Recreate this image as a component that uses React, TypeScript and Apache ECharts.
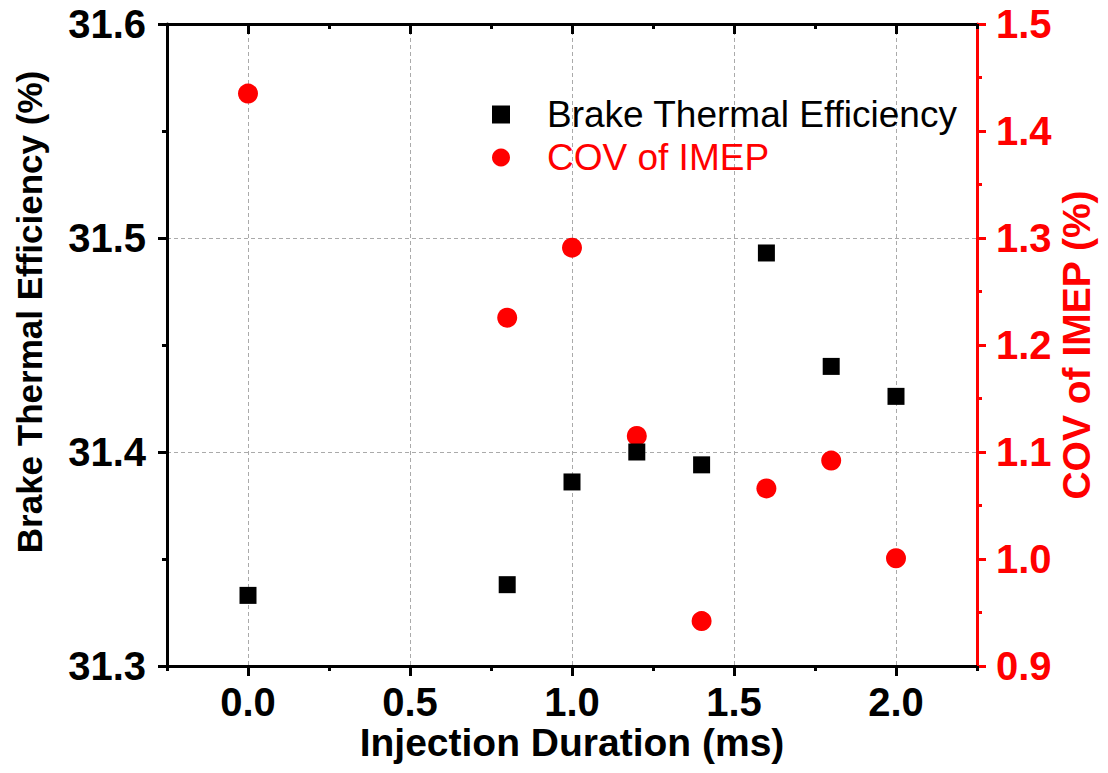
import React, { useEffect, useRef } from "react";
import * as echarts from "echarts";

const injectionDuration = [0, 0.8, 1.0, 1.2, 1.4, 1.6, 1.8, 2.0];
const bteValues = [31.333, 31.338, 31.386, 31.4, 31.394, 31.493, 31.44, 31.426];
const covValues = [1.435, 1.2255, 1.291, 1.115, 0.942, 1.066, 1.092, 1.0007];
const xMajorTicks = [0, 0.5, 1.0, 1.5, 2.0];
const xMinorTicks = [-0.25, 0.25, 0.75, 1.25, 1.75, 2.25];
const bteName = "Brake Thermal Efficiency";
const covName = "COV of IMEP";

const FONT = "'Liberation Sans', Arial, sans-serif";
const RED = "#ff0000";

export default function App() {
  const ref = useRef<HTMLDivElement>(null);
  useEffect(() => {
    document.body.style.margin = "0";
    if (!ref.current) return;
    const chart = echarts.init(ref.current, undefined, { renderer: "svg" });
    const xBase = {
      type: "value",
      min: -0.25,
      max: 2.25,
      splitLine: { show: false },
      axisLabel: { show: false },
      nameMoveOverlap: false,
    };
    chart.setOption({
      animation: false,
      backgroundColor: "#fff",
      textStyle: { fontFamily: FONT },
      grid: { left: 167, right: 131, top: 24, bottom: 107, outerBoundsMode: "none" },
      legend: {
        orient: "vertical",
        left: 487,
        top: 91,
        itemWidth: 18,
        itemHeight: 18,
        itemGap: 6,
        selectedMode: false,
        textStyle: { fontSize: 37, fontFamily: FONT, padding: [0, 0, 0, 32] },
        data: [
          { name: bteName, icon: "rect", textStyle: { color: "#000" } },
          { name: covName, icon: "circle", textStyle: { color: RED } },
        ],
      },
      xAxis: [
        {
          ...xBase,
          position: "bottom",
          name: "Injection Duration (ms)",
          nameLocation: "middle",
          nameGap: 57,
          nameTextStyle: { fontSize: 39, fontWeight: "bold", color: "#000", fontFamily: FONT },
          axisLine: { show: true, onZero: false, lineStyle: { color: "#000", width: 3 } },
          axisTick: { show: true, length: 10, customValues: xMajorTicks, lineStyle: { color: "#000", width: 3 } },
          axisLabel: {
            show: true,
            customValues: xMajorTicks,
            margin: 16,
            fontSize: 40,
            fontWeight: "bold",
            color: "#000",
            fontFamily: FONT,
            formatter: (v: number) => v.toFixed(1),
          },
          splitLine: { show: true, lineStyle: { color: "#aaaaaa", width: 1, type: [4, 3] } },
        },
        {
          ...xBase,
          position: "bottom",
          axisLine: { show: false, onZero: false },
          axisTick: { show: true, length: 5, customValues: xMinorTicks, lineStyle: { color: "#000", width: 3 } },
        },
        {
          ...xBase,
          position: "top",
          axisLine: { show: true, onZero: false, lineStyle: { color: "#000", width: 3 } },
          axisTick: { show: true, inside: true, length: 10, customValues: xMajorTicks, lineStyle: { color: "#000", width: 3 } },
        },
        {
          ...xBase,
          position: "top",
          axisLine: { show: false, onZero: false },
          axisTick: { show: true, inside: true, length: 5, customValues: xMinorTicks, lineStyle: { color: "#000", width: 3 } },
        },
      ],
      yAxis: [
        {
          type: "value",
          position: "left",
          min: 31.3,
          max: 31.6,
          interval: 0.1,
          nameMoveOverlap: false,
          name: "Brake Thermal Efficiency (%)",
          nameLocation: "middle",
          nameGap: 120,
          nameTextStyle: { fontSize: 35, fontWeight: "bold", color: "#000", fontFamily: FONT, padding: [0, 0, 0, 66] },
          axisLine: { show: true, onZero: false, lineStyle: { color: "#000", width: 3 } },
          axisTick: { show: true, length: 9, lineStyle: { color: "#000", width: 3 } },
          minorTick: { show: true, splitNumber: 2, length: 5, lineStyle: { color: "#000", width: 3 } },
          axisLabel: {
            margin: 21,
            fontSize: 40,
            fontWeight: "bold",
            color: "#000",
            fontFamily: FONT,
            formatter: (v: number) => v.toFixed(1),
          },
          splitLine: { show: true, lineStyle: { color: "#aaaaaa", width: 1, type: [4, 3] } },
        },
        {
          type: "value",
          position: "right",
          min: 0.9,
          max: 1.5,
          interval: 0.1,
          nameMoveOverlap: false,
          name: "COV of IMEP (%)",
          nameLocation: "middle",
          nameGap: 80,
          nameTextStyle: { fontSize: 39, fontWeight: "bold", color: RED, fontFamily: FONT },
          axisLine: { show: true, onZero: false, lineStyle: { color: RED, width: 3 } },
          axisTick: { show: true, length: 9, lineStyle: { color: RED, width: 3 } },
          minorTick: { show: true, splitNumber: 2, length: 5, lineStyle: { color: RED, width: 3 } },
          axisLabel: {
            margin: 19,
            fontSize: 40,
            fontWeight: "bold",
            color: RED,
            fontFamily: FONT,
            formatter: (v: number) => v.toFixed(1),
          },
          splitLine: { show: false },
        },
      ],
      series: [
        {
          name: covName,
          type: "scatter",
          xAxisIndex: 0,
          yAxisIndex: 1,
          symbol: "circle",
          symbolSize: 20,
          itemStyle: { color: RED, opacity: 1 },
          data: injectionDuration.map((x, i) => [x, covValues[i]]),
        },
        {
          name: bteName,
          type: "scatter",
          xAxisIndex: 0,
          yAxisIndex: 0,
          symbol: "rect",
          symbolSize: 17,
          itemStyle: { color: "#000", opacity: 1 },
          data: injectionDuration.map((x, i) => [x, bteValues[i]]),
        },
      ],
    });
    return () => chart.dispose();
  }, []);
  return <div ref={ref} style={{ width: 1108, height: 773 }} />;
}
